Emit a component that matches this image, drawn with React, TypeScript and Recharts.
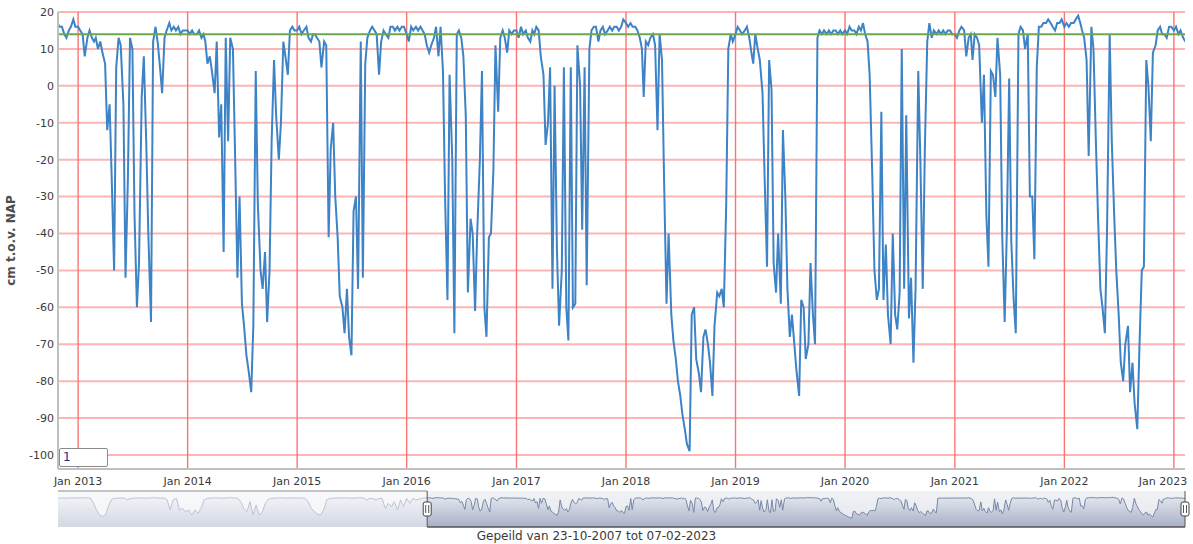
import {
  Area,
  AreaChart,
  Line,
  LineChart,
  ReferenceArea,
  ReferenceDot,
  ReferenceLine,
  XAxis,
  YAxis
} from 'recharts';

// waterstand in cm t.o.v. NAP, ca. wekelijks (1e, 8e, 16e en 23e van de maand)
const DAGEN = [1, 8, 16, 23];

const peil2012 = [null, null, null, 17, 16, 16, 14, 13, 15, 16, 18, 16]; // okt-dec
const peil2013 = [
  16, 15, 14, 8, 13, 15, 13, 12, 13, 10, 12, 9,
  6, -12, -5, -25, -50, 5, 13, 11, -5, -52, -25, 13,
  10, -35, -60, -48, -3, 8, -15, -40, -64, 12, 16, 12,
  5, -2, 13, 15, 17, 15, 16, 15, 16, 14, 15, 15
];
const peil2014 = [
  15, 14, 15, 14, 14, 15, 13, 14, 12, 6, 8, 4,
  -2, 12, -14, -5, -45, 13, -15, 13, 10, -18, -52, -30,
  -59, -65, -73, -77, -83, -65, 4, -32, -50, -55, -45, -64,
  -50, -15, 7, -8, -20, -10, 12, 8, 3, 15, 16, 15
];
const peil2015 = [
  15, 16, 14, 15, 16, 13, 12, 14, 14, 13, 12, 5,
  12, 11, -41, -17, -10, -30, -41, -57, -60, -67, -55, -68,
  -73, -34, -30, -55, 12, -52, 6, 13, 15, 16, 15, 14,
  3, 12, 15, 14, 13, 16, 16, 15, 16, 15, 16, 16
];
const peil2016 = [
  14, 12, 16, 15, 16, 15, 16, 15, 14, 11, 9, 11,
  13, 16, 8, 16, 4, -30, -58, 3, -20, -67, 14, 15,
  13, 8, -8, -56, -36, -40, -61, -40, -20, 4, -60, -68,
  -41, -40, -23, 11, -7, 13, 15, 13, 9, 15, 14, 15
];
const peil2017 = [
  15, 13, 16, 14, 15, 13, 12, 15, 14, 16, 15, 8,
  3, -16, -10, 5, -55, 0, -45, -65, -50, 5, -60, -69,
  5, -60, -59, 11, 0, -39, 5, -54, 10, 15, 16, 16,
  12, 15, 16, 14, 15, 16, 15, 16, 16, 15, 16, 18
];
const peil2018 = [
  17, 16, 17, 16, 16, 15, 13, 10, -3, 12, 11, 13,
  14, 11, -12, 14, 7, -26, -59, -40, -62, -69, -74, -80,
  -84, -89, -93, -97, -99, -62, -60, -74, -78, -83, -68, -66,
  -70, -75, -84, -65, -56, -57, -55, -60, -32, 10, 14, 12
];
const peil2019 = [
  14, 16, 15, 14, 15, 16, 13, 9, 6, 14, 10, 7,
  -2, -25, -49, 7, -1, -48, -56, -40, -59, -12, -30, -55,
  -68, -62, -70, -77, -84, -58, -60, -74, -70, -48, -62, -70,
  13, 15, 14, 15, 14, 15, 14, 15, 15, 14, 15, 14
];
const peil2020 = [
  15, 14, 16, 15, 15, 14, 16, 15, 17, 14, 12, 3,
  -25, -50, -58, -55, -7, -58, -43, -62, -70, -40, -62, -66,
  -56, 10, -55, -8, -63, -52, -75, -55, 4, -20, -55, -17,
  12, 17, 13, 15, 14, 15, 14, 15, 14, 15, 15, 14
];
const peil2021 = [
  14, 13, 15, 16, 15, 8, 13, 14, 7, 14, 13, 11,
  -10, 3, -35, -49, 4, 3, -3, 13, 3, -41, -64, -40,
  2, -42, -58, -67, 14, 16, 15, 10, 14, -30, -30, -47,
  5, 16, 16, 17, 17, 18, 17, 16, 15, 17, 17, 18
];
const peil2022 = [
  16, 17, 16, 17, 17, 18, 19, 17, 15, 13, 7, -19,
  16, 10, -15, -35, -55, -60, -67, -40, 14, -15, -35, -50,
  -62, -75, -80, -70, -65, -83, -75, -86, -93, -71, -50, -49,
  7, 0, -15, 9, 11, 15, 16, 14, 14, 13, 16, 16
];
const peil2023 = [15, 16, 14, 15, 13, 12];

const jaren: [number, number, (number | null)[]][] = [
  [2012, 9, peil2012],
  [2013, 0, peil2013],
  [2014, 0, peil2014],
  [2015, 0, peil2015],
  [2016, 0, peil2016],
  [2017, 0, peil2017],
  [2018, 0, peil2018],
  [2019, 0, peil2019],
  [2020, 0, peil2020],
  [2021, 0, peil2021],
  [2022, 0, peil2022],
  [2023, 0, peil2023]
];

// navigator-reeks voor de oudere jaren, halfmaandelijks (1e en 16e) vanaf okt 2007
const navPeil2007 = [
  14, 14,
  14, 15, 14, 15, 16, 15, 16, 15, 17, 16, 15,
  -15, -53, -82, -91, -78, -25, 9,
  13, 14, 15, 14, 5, 12, 14, 15, 16, 15, 14, 15, 16, 17, 15, 14, 15,
  4, -53, 4, 13, -53, -44, -63, -53, -82, -53, -72, -44, 4,
  13,
  14, 15, 16, 15, 14, 15, 16, 17, 15, 14,
  -6, -44, -63, -6, -82, -25, -82, -63, -15, 9,
  13, 14, 15, 16, 15, 14, 15, 16, 15, 14, 15, 13,
  -6, -44, -63, -78, -82, -53, 4,
  13, 14, 15, 16, 15, 16, 15, 14, 15, 16, 17, 15, 3, 14,
  10, 5, 12, 14,
  -44, -15, -34, -6, -53, 4, -34, 13, -15, 13, 4, 9, 13
];

const peilTicks = [-100, -90, -80, -70, -60, -50, -40, -30, -20, -10, 0, 10, 20];
const jaarTicks = [2013, 2014, 2015, 2016, 2017, 2018, 2019, 2020, 2021, 2022, 2023].map((j) => Date.UTC(j, 0, 1));
const streefpeil = 14;

const navStart = Date.UTC(2007, 9, 23);
const viewStart = Date.UTC(2012, 9, 26);
const viewEnd = Date.UTC(2023, 1, 7);

const metingen = jaren.flatMap(([jaar, maand, waarden]) =>
  waarden.flatMap((peil, i) =>
    peil === null ? [] : [{ t: Date.UTC(jaar, maand + Math.floor(i / 4), DAGEN[i % 4]), peil }]
  )
);

const navData = [
  ...navPeil2007.map((peil, i) => ({ t: Date.UTC(2007, 9 + Math.floor(i / 2), i % 2 ? 16 : 1), peil })),
  ...metingen
];

const FONT = '"DejaVu Sans", Verdana, sans-serif';

function JaarTick({ x, y, payload }: any) {
  const label = `Jan ${new Date(payload.value).getUTCFullYear()}`;
  const cx = Math.min(x, 1163);
  return (
    <text x={cx} y={y} dy="0.71em" textAnchor="middle" fill="#3a3a3a" fontSize={11} fontFamily={FONT}>
      {label}
    </text>
  );
}

function Handle(props: any) {
  const { cx, cy } = props;
  return (
    <g>
      <rect x={cx - 4} y={cy - 7} width={8} height={14} rx={2} fill="#fff" stroke="#444" strokeWidth={1} />
      <line x1={cx - 1.5} x2={cx - 1.5} y1={cy - 4} y2={cy + 4} stroke="#555" />
      <line x1={cx + 1.5} x2={cx + 1.5} y1={cy - 4} y2={cy + 4} stroke="#555" />
    </g>
  );
}

export default function App() {
  return (
    <div style={{ position: 'absolute', left: 0, top: 0, width: 1193, height: 544, background: '#fff', fontFamily: FONT }}>
      <LineChart width={1193} height={490} data={metingen} margin={{ top: 12, right: 8, bottom: 0, left: 8 }}>
        <XAxis
          dataKey="t"
          type="number"
          scale="time"
          domain={[viewStart, viewEnd]}
          allowDataOverflow
          ticks={jaarTicks}
          interval={0}
          height={21}
          tick={<JaarTick />}
          tickLine={false}
          tickSize={0}
          tickMargin={8}
          axisLine={{ stroke: '#c0c0c0', strokeWidth: 2 }}
        />
        <YAxis
          type="number"
          domain={[-103.8, 20]}
          allowDataOverflow
          ticks={peilTicks}
          interval={0}
          width={50}
          tickLine={false}
          tickSize={0}
          tickMargin={4}
          tick={{ fill: '#3a3a3a', fontSize: 11, fontFamily: FONT }}
          axisLine={{ stroke: '#c0c0c0', strokeWidth: 2 }}
          label={{
            value: 'cm t.o.v. NAP',
            angle: -90,
            position: 'insideLeft',
            offset: 3,
            style: { fill: '#4d4d4d', fontSize: 12, fontWeight: 'bold', fontFamily: FONT, textAnchor: 'middle' }
          }}
        />
        {peilTicks.map((p) => (
          <ReferenceLine key={`h${p}`} y={p} stroke="#ffb4b4" strokeWidth={2} />
        ))}
        {jaarTicks.map((t) => (
          <ReferenceLine key={`v${t}`} x={t} stroke="#ff7272" strokeWidth={1.4} />
        ))}
        <Line
          type="linear"
          dataKey="peil"
          stroke="#3d83c6"
          strokeWidth={2}
          dot={false}
          isAnimationActive={false}
        />
        <ReferenceLine y={streefpeil} stroke="#6aa84f" strokeWidth={2} />
      </LineChart>

      <div
        style={{
          position: 'absolute',
          left: 59,
          top: 448,
          width: 44,
          height: 17,
          border: '1px solid #8c8c8c',
          borderRadius: 2,
          background: '#fff',
          color: '#1a2a8a',
          fontSize: 12,
          lineHeight: '17px',
          paddingLeft: 3,
          boxSizing: 'content-box'
        }}
      >
        1
      </div>

      <div
        style={{
          position: 'absolute',
          left: 58,
          top: 491,
          width: 1127,
          height: 36,
          background: 'linear-gradient(#f1f2f5, #e4e6ec)'
        }}
      />
      <div style={{ position: 'absolute', left: 0, top: 490 }}>
        <AreaChart width={1193} height={38} data={navData} margin={{ top: 1, right: 8, bottom: 1, left: 58 }}>
          <defs>
            <linearGradient id="navVulling" x1="0" y1="0" x2="0" y2="1">
              <stop offset="0%" stopColor="#e2e5ed" />
              <stop offset="100%" stopColor="#a7b0c6" />
            </linearGradient>
          </defs>
          <XAxis dataKey="t" type="number" scale="time" domain={[navStart, viewEnd]} allowDataOverflow hide />
          <YAxis type="number" domain={[-150, 55]} allowDataOverflow hide />
          <Area
            type="linear"
            dataKey="peil"
            baseValue="dataMin"
            stroke="#7787a8"
            strokeWidth={1}
            fill="url(#navVulling)"
            fillOpacity={1}
            isAnimationActive={false}
          />
          <ReferenceArea x1={navStart} x2={viewStart} y1={-150} y2={55} fill="#ffffff" fillOpacity={0.5} stroke="none" />
          <ReferenceLine segment={[{ x: navStart, y: 55 }, { x: viewStart, y: 55 }]} stroke="#8a8a8a" />
          <ReferenceLine segment={[{ x: viewStart, y: 55 }, { x: viewStart, y: -150 }]} stroke="#555" />
          <ReferenceLine segment={[{ x: viewStart, y: -150 }, { x: viewEnd, y: -150 }]} stroke="#555" strokeWidth={1.5} />
          <ReferenceLine segment={[{ x: viewEnd, y: -150 }, { x: viewEnd, y: 55 }]} stroke="#555" />
          <ReferenceDot x={viewStart} y={-47.5} r={5} shape={<Handle />} />
          <ReferenceDot x={viewEnd} y={-47.5} r={5} shape={<Handle />} />
        </AreaChart>
      </div>

      <div
        style={{
          position: 'absolute',
          left: 0,
          top: 529,
          width: 1193,
          textAlign: 'center',
          fontSize: 12,
          color: '#3a3a3a',
          lineHeight: '15px'
        }}
      >
        Gepeild van 23-10-2007 tot 07-02-2023
      </div>
    </div>
  );
}
